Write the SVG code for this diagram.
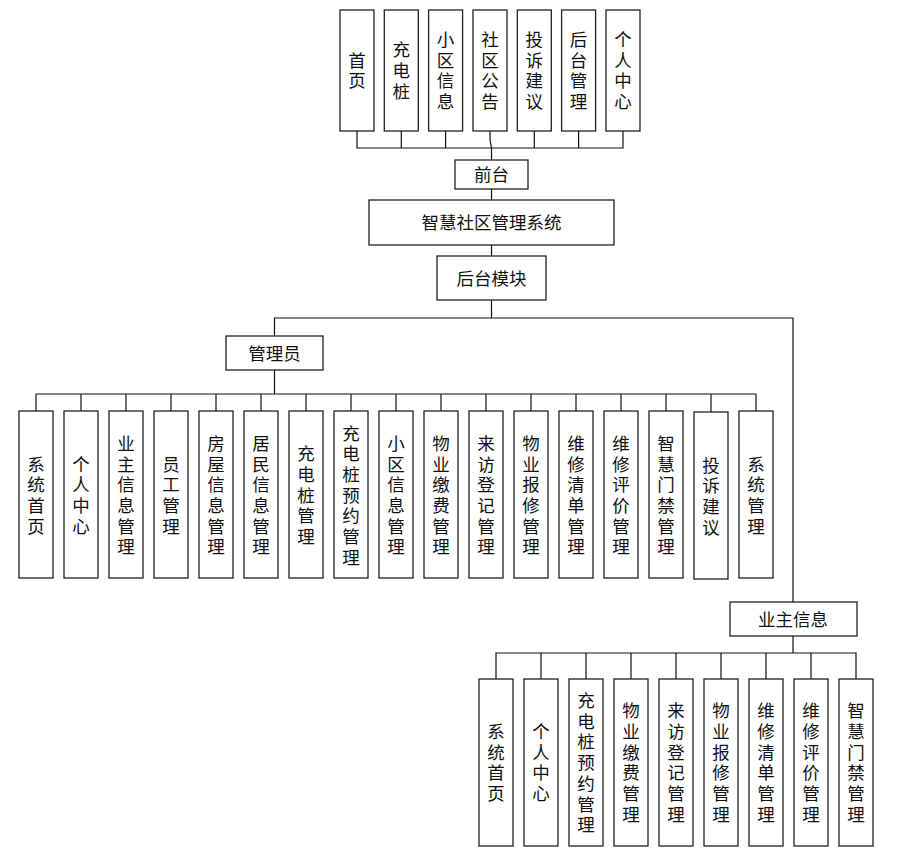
<svg xmlns="http://www.w3.org/2000/svg" width="900" height="862" viewBox="0 0 900 862">
<style>
rect{fill:#fff;stroke:#222;stroke-width:1.3}
text{font-family:"Noto Sans CJK SC","Noto Sans",sans-serif;font-size:17.5px;fill:#111;text-anchor:middle}
text.v{writing-mode:vertical-rl;letter-spacing:3.2px}
.c line,.c polyline{stroke:#111;stroke-width:1.2;fill:none}
</style>
<rect x="0" y="0" width="900" height="862" style="stroke:none"/>
<g class="c" id="connectors">
<polyline points="357,131 357,148 623,148 623,131"/>
<line x1="401.3" y1="131" x2="401.3" y2="148"/>
<line x1="445.6" y1="131" x2="445.6" y2="148"/>
<polyline points="490,131 490,140 491.5,148"/>
<line x1="534.3" y1="131" x2="534.3" y2="148"/>
<line x1="578.6" y1="131" x2="578.6" y2="148"/>
<line x1="491.5" y1="148" x2="491.5" y2="160"/>
<line x1="491.5" y1="189" x2="491.5" y2="200"/>
<line x1="491.5" y1="245" x2="491.5" y2="256"/>
<line x1="491.5" y1="300" x2="491.5" y2="318"/>
<polyline points="274.5,336 274.5,318 793,318 793,602"/>
<line x1="274.5" y1="370" x2="274.5" y2="394"/>
<polyline points="36,411 36,394 756,394 756,411"/>
<line x1="81" y1="394" x2="81" y2="411"/>
<line x1="126" y1="394" x2="126" y2="411"/>
<line x1="171" y1="394" x2="171" y2="411"/>
<line x1="216" y1="394" x2="216" y2="411"/>
<line x1="261" y1="394" x2="261" y2="411"/>
<line x1="306" y1="394" x2="306" y2="411"/>
<line x1="351" y1="394" x2="351" y2="411"/>
<line x1="396" y1="394" x2="396" y2="411"/>
<line x1="441" y1="394" x2="441" y2="411"/>
<line x1="486" y1="394" x2="486" y2="411"/>
<line x1="531" y1="394" x2="531" y2="411"/>
<line x1="576" y1="394" x2="576" y2="411"/>
<line x1="621" y1="394" x2="621" y2="411"/>
<line x1="666" y1="394" x2="666" y2="411"/>
<line x1="711" y1="394" x2="711" y2="412"/>
<line x1="793" y1="636" x2="793" y2="653"/>
<polyline points="496,679 496,653 856,653 856,679"/>
<line x1="541" y1="653" x2="541" y2="679"/>
<line x1="586" y1="653" x2="586" y2="679"/>
<line x1="631" y1="653" x2="631" y2="679"/>
<line x1="676" y1="653" x2="676" y2="679"/>
<line x1="721" y1="653" x2="721" y2="679"/>
<line x1="766" y1="653" x2="766" y2="679"/>
<line x1="811" y1="653" x2="811" y2="679"/>
</g>

<g id="top1"><rect x="340" y="10" width="34" height="121"/><text class="v" x="357" y="72.1">首页</text></g>
<g id="top2"><rect x="384.3" y="10" width="34" height="121"/><text class="v" x="401.3" y="72.1">充电桩</text></g>
<g id="top3"><rect x="428.6" y="10" width="34" height="121"/><text class="v" x="445.6" y="72.1">小区信息</text></g>
<g id="top4"><rect x="473" y="10" width="34" height="121"/><text class="v" x="490" y="72.1">社区公告</text></g>
<g id="top5"><rect x="517.3" y="10" width="34" height="121"/><text class="v" x="534.3" y="72.1">投诉建议</text></g>
<g id="top6"><rect x="561.6" y="10" width="34" height="121"/><text class="v" x="578.6" y="72.1">后台管理</text></g>
<g id="top7"><rect x="606" y="10" width="34" height="121"/><text class="v" x="623" y="72.1">个人中心</text></g>

<g id="qiantai"><rect x="455" y="160" width="73" height="29"/><text x="491.5" y="181">前台</text></g>
<g id="system"><rect x="369" y="200" width="245" height="45"/><text x="491.5" y="229">智慧社区管理系统</text></g>
<g id="houtai"><rect x="437" y="256" width="109" height="44"/><text x="491.5" y="284.6">后台模块</text></g>
<g id="admin"><rect x="226" y="336" width="97" height="34"/><text x="274.5" y="359.5">管理员</text></g>
<g id="owner"><rect x="730" y="602" width="127" height="34"/><text x="793" y="625.6">业主信息</text></g>

<g id="a1"><rect x="19" y="411" width="34" height="167"/><text class="v" x="36" y="496.6">系统首页</text></g>
<g id="a2"><rect x="64" y="411" width="34" height="167"/><text class="v" x="81" y="496.6">个人中心</text></g>
<g id="a3"><rect x="109" y="411" width="34" height="167"/><text class="v" x="126" y="496.6">业主信息管理</text></g>
<g id="a4"><rect x="154" y="411" width="34" height="167"/><text class="v" x="171" y="496.6">员工管理</text></g>
<g id="a5"><rect x="199" y="411" width="34" height="167"/><text class="v" x="216" y="496.6">房屋信息管理</text></g>
<g id="a6"><rect x="244" y="411" width="34" height="167"/><text class="v" x="261" y="496.6">居民信息管理</text></g>
<g id="a7"><rect x="289" y="411" width="34" height="167"/><text class="v" x="306" y="496.6">充电桩管理</text></g>
<g id="a8"><rect x="334" y="411" width="34" height="167"/><text class="v" x="351" y="496.6">充电桩预约管理</text></g>
<g id="a9"><rect x="379" y="411" width="34" height="167"/><text class="v" x="396" y="496.6">小区信息管理</text></g>
<g id="a10"><rect x="424" y="411" width="34" height="167"/><text class="v" x="441" y="496.6">物业缴费管理</text></g>
<g id="a11"><rect x="469" y="411" width="34" height="167"/><text class="v" x="486" y="496.6">来访登记管理</text></g>
<g id="a12"><rect x="514" y="411" width="34" height="167"/><text class="v" x="531" y="496.6">物业报修管理</text></g>
<g id="a13"><rect x="559" y="411" width="34" height="167"/><text class="v" x="576" y="496.6">维修清单管理</text></g>
<g id="a14"><rect x="604" y="411" width="34" height="167"/><text class="v" x="621" y="496.6">维修评价管理</text></g>
<g id="a15"><rect x="649" y="411" width="34" height="167"/><text class="v" x="666" y="496.6">智慧门禁管理</text></g>
<g id="a16"><rect x="694" y="412" width="34" height="167"/><text class="v" x="711" y="497.6">投诉建议</text></g>
<g id="a17"><rect x="739" y="411" width="34" height="167"/><text class="v" x="756" y="496.6">系统管理</text></g>

<g id="o1"><rect x="479" y="679" width="34" height="167"/><text class="v" x="496" y="764.1">系统首页</text></g>
<g id="o2"><rect x="524" y="679" width="34" height="167"/><text class="v" x="541" y="764.1">个人中心</text></g>
<g id="o3"><rect x="569" y="679" width="34" height="167"/><text class="v" x="586" y="764.1">充电桩预约管理</text></g>
<g id="o4"><rect x="614" y="679" width="34" height="167"/><text class="v" x="631" y="764.1">物业缴费管理</text></g>
<g id="o5"><rect x="659" y="679" width="34" height="167"/><text class="v" x="676" y="764.1">来访登记管理</text></g>
<g id="o6"><rect x="704" y="679" width="34" height="167"/><text class="v" x="721" y="764.1">物业报修管理</text></g>
<g id="o7"><rect x="749" y="679" width="34" height="167"/><text class="v" x="766" y="764.1">维修清单管理</text></g>
<g id="o8"><rect x="794" y="679" width="34" height="167"/><text class="v" x="811" y="764.1">维修评价管理</text></g>
<g id="o9"><rect x="839" y="679" width="34" height="167"/><text class="v" x="856" y="764.1">智慧门禁管理</text></g>
</svg>
